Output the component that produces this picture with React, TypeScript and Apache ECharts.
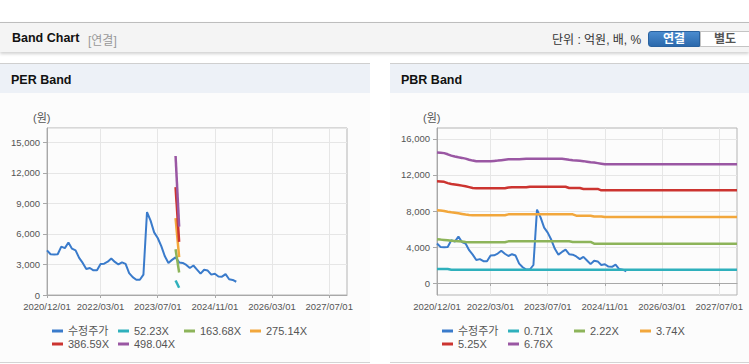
import React, { useEffect, useRef } from 'react';
import * as echarts from 'echarts';

const FONT = "'Liberation Sans', Arial, 'Noto Sans CJK KR', sans-serif";

// Monthly categories 2020/12 .. 2027/12
const MONTHS: string[] = (() => {
  const out: string[] = [];
  let y = 2020;
  let m = 12;
  for (let i = 0; i < 85; i++) {
    out.push(`${y}/${String(m).padStart(2, '0')}/01`);
    m++;
    if (m > 12) { m = 1; y++; }
  }
  return out;
})();

const X_TICK_LABELS = ['2020/12/01', '2022/03/01', '2023/07/01', '2024/11/01', '2026/03/01', '2027/07/01'];

// 수정주가 (monthly, 2020/12 .. 2025/05)
const PRICE = [
  4380, 4000, 3980, 4000, 4750, 4600, 5150, 4550, 4380, 3650,
  3150, 2550, 2650, 2420, 2420, 3050, 3080, 3270, 3580, 3250,
  3000, 3200, 3050, 2150, 1750, 1500, 1500, 2000, 8150, 7300,
  6150, 5600, 4800, 3800, 3150, 3450, 3700, 3200, 3150, 2950,
  2650, 2900, 2500, 2100, 2480, 2400, 2000, 2080, 1820, 1800,
  2050, 1550, 1480, 1300,
];

// PER band
const PER_NAMES = ['52.23X', '163.68X', '275.14X', '386.59X', '498.04X'];
const PER_BAND_DATES = ['2023/12/01', '2024/01/01'];
const PER_52 = [1430, 705];
const PER_163 = [4490, 2210];
const PER_275 = [7540, 3715];
const PER_386 = [10600, 5220];
const PER_498 = [13650, 6720];

// PBR band
const PBR_NAMES = ['0.71X', '2.22X', '3.74X', '5.25X', '6.76X'];
const PBR_071 = [
  1560, 1560, 1560, 1560, 1480, 1480, 1480, 1480, 1480, 1480,
  1480, 1480, 1480, 1480, 1480, 1480, 1480, 1480, 1480, 1480,
  1480, 1480, 1480, 1480, 1480, 1480, 1480, 1480, 1480, 1480,
  1480, 1480, 1480, 1480, 1480, 1480, 1480, 1480, 1480, 1480,
  1480, 1480, 1480, 1480, 1480, 1480, 1480, 1480, 1480, 1480,
  1480, 1480, 1480, 1480, 1480, 1480, 1480, 1480, 1480, 1480,
  1480, 1480, 1480, 1480, 1480, 1480, 1480, 1480, 1480, 1480,
  1480, 1480, 1480, 1480, 1480, 1480, 1480, 1480, 1480, 1480,
  1480, 1480, 1480, 1480, 1480,
];
const PBR_222 = [
  4850, 4820, 4780, 4740, 4700, 4660, 4630, 4600, 4560, 4540,
  4520, 4520, 4520, 4520, 4520, 4520, 4520, 4520, 4520, 4520,
  4630, 4630, 4630, 4630, 4630, 4630, 4630, 4630, 4630, 4630,
  4630, 4630, 4630, 4630, 4630, 4630, 4630, 4630, 4560, 4560,
  4560, 4560, 4560, 4560, 4370, 4370, 4370, 4370, 4370, 4370,
  4370, 4370, 4370, 4370, 4370, 4370, 4370, 4370, 4370, 4370,
  4370, 4370, 4370, 4370, 4370, 4370, 4370, 4370, 4370, 4370,
  4370, 4370, 4370, 4370, 4370, 4370, 4370, 4370, 4370, 4370,
  4370, 4370, 4370, 4370, 4370,
];
const PBR_374 = [
  8080, 8050, 8000, 7920, 7850, 7800, 7740, 7670, 7600, 7550,
  7520, 7520, 7520, 7520, 7520, 7520, 7520, 7520, 7520, 7520,
  7630, 7630, 7630, 7630, 7630, 7630, 7630, 7630, 7630, 7630,
  7630, 7630, 7630, 7630, 7630, 7630, 7630, 7630, 7630, 7480,
  7480, 7480, 7480, 7480, 7400, 7400, 7400, 7330, 7330, 7330,
  7330, 7330, 7330, 7330, 7330, 7330, 7330, 7330, 7330, 7330,
  7330, 7330, 7330, 7330, 7330, 7330, 7330, 7330, 7330, 7330,
  7330, 7330, 7330, 7330, 7330, 7330, 7330, 7330, 7330, 7330,
  7330, 7330, 7330, 7330, 7330,
];
const PBR_525 = [
  11300, 11280, 11240, 11100, 11000, 10950, 10900, 10820, 10740, 10650,
  10560, 10520, 10520, 10520, 10520, 10520, 10520, 10520, 10520, 10520,
  10600, 10630, 10630, 10630, 10630, 10630, 10700, 10700, 10700, 10700,
  10700, 10700, 10700, 10700, 10700, 10700, 10700, 10560, 10560, 10560,
  10560, 10450, 10450, 10450, 10450, 10450, 10300, 10300, 10300, 10300,
  10300, 10300, 10300, 10300, 10300, 10300, 10300, 10300, 10300, 10300,
  10300, 10300, 10300, 10300, 10300, 10300, 10300, 10300, 10300, 10300,
  10300, 10300, 10300, 10300, 10300, 10300, 10300, 10300, 10300, 10300,
  10300, 10300, 10300, 10300, 10300,
];
const PBR_676 = [
  14500, 14480, 14430, 14300, 14150, 14050, 13970, 13900, 13820, 13700,
  13600, 13520, 13520, 13520, 13520, 13520, 13560, 13600, 13650, 13700,
  13740, 13750, 13750, 13760, 13780, 13800, 13800, 13800, 13800, 13800,
  13800, 13800, 13800, 13800, 13800, 13800, 13760, 13700, 13650, 13620,
  13580, 13540, 13480, 13420, 13380, 13320, 13260, 13200, 13200, 13200,
  13200, 13200, 13200, 13200, 13200, 13200, 13200, 13200, 13200, 13200,
  13200, 13200, 13200, 13200, 13200, 13200, 13200, 13200, 13200, 13200,
  13200, 13200, 13200, 13200, 13200, 13200, 13200, 13200, 13200, 13200,
  13200, 13200, 13200, 13200, 13200,
];
const PBR_Y_TICKS = [0, 4000, 8000, 12000, 16000];

const PRICE_NAME = '수정주가';
const COLORS = ['#3a7bcb', '#2fb0bc', '#8db45a', '#f2a73c', '#cc3430', '#9a57a3'];

const tickSet = new Set(X_TICK_LABELS);
const showIdx = (_i: number, v: string) => tickSet.has(v);
const fmt = (v: number) => Number(v).toLocaleString('en-US');

function lineSeries(name: string, data: (number | null)[], color: string, width = 2) {
  return {
    name,
    type: 'line',
    data,
    showSymbol: false,
    symbol: 'none',
    connectNulls: false,
    color,
    lineStyle: { color, width },
    emphasis: { disabled: true },
  };
}

function buildOption(kind: 'PER' | 'PBR') {
  const names = kind === 'PER' ? PER_NAMES : PBR_NAMES;
  let bands: (number | null)[][];
  if (kind === 'PER') {
    const src = [PER_52, PER_163, PER_275, PER_386, PER_498];
    bands = src.map((vals) =>
      MONTHS.map((d) => {
        const k = PER_BAND_DATES.indexOf(d);
        return k >= 0 ? vals[k] : null;
      })
    );
  } else {
    bands = [PBR_071, PBR_222, PBR_374, PBR_525, PBR_676];
  }
  const legendText = { fontSize: 11, color: '#555', fontFamily: FONT, width: 46, lineHeight: 12 };
  const legendCommon = {
    left: 52,
    orient: 'horizontal',
    icon: 'rect',
    itemWidth: 11,
    itemHeight: 3,
    itemGap: 4,
    padding: 0,
    selectedMode: false,
    textStyle: legendText,
  };
  const yAxis: any = {
    type: 'value',
    axisLine: { show: true, lineStyle: { color: '#a8a8a8' } },
    axisTick: { show: true, length: 4, lineStyle: { color: '#a8a8a8' } },
    axisLabel: { color: '#555', fontSize: 9.5, fontFamily: FONT, margin: 7, formatter: fmt, showMaxLabel: false },
    splitLine: { show: true, lineStyle: { color: '#e6e6e6' } },
  };
  if (kind === 'PER') {
    yAxis.min = 0;
    yAxis.max = 16400;
    yAxis.interval = 3000;
  } else {
    yAxis.min = -1333;
    yAxis.max = 17222;
    yAxis.axisLabel.customValues = PBR_Y_TICKS;
    yAxis.axisTick.customValues = PBR_Y_TICKS;
    yAxis.axisLabel.showMaxLabel = true;
  }
  return {
    animation: false,
    grid: { left: 47, top: 35, width: 300, height: 167, show: true, borderColor: '#b4b4b4', borderWidth: 1, backgroundColor: 'transparent' },
    xAxis: {
      type: 'category',
      data: MONTHS,
      boundaryGap: false,
      axisLine: { show: true, lineStyle: { color: '#a8a8a8' } },
      axisTick: { show: true, interval: showIdx, length: 3, lineStyle: { color: '#a8a8a8' } },
      axisLabel: {
        interval: showIdx,
        color: '#555',
        fontSize: 9.5,
        fontFamily: FONT,
        margin: 7,
        hideOverlap: false,
      },
      splitLine: { show: true, interval: showIdx, lineStyle: { color: '#e6e6e6' } },
    },
    yAxis,
    legend: [
      { ...legendCommon, top: 232, data: [PRICE_NAME, names[0], names[1], names[2]] },
      { ...legendCommon, top: 245, data: [names[3], names[4]] },
    ],
    graphic: [
      {
        type: 'text',
        left: 33,
        top: 19,
        style: { text: '(원)', fill: '#555', fontSize: 11, fontFamily: FONT },
      },
    ],
    series: [
      lineSeries(PRICE_NAME, PRICE, COLORS[0], 2),
      ...bands.map((b, i) => lineSeries(names[i], b, COLORS[i + 1], 2.5)),
    ],
  };
}

function BandChart({ kind }: { kind: 'PER' | 'PBR' }) {
  const ref = useRef<HTMLDivElement>(null);
  useEffect(() => {
    if (!ref.current) return;
    const chart = echarts.init(ref.current, undefined, { renderer: 'svg' });
    chart.setOption(buildOption(kind) as any);
    return () => chart.dispose();
  }, [kind]);
  return <div ref={ref} style={{ position: 'absolute', left: 0, top: 29, width: '100%', height: 269 }} />;
}

function Panel({ left, width, title, kind }: { left: number; width: number; title: string; kind: 'PER' | 'PBR' }) {
  return (
    <div
      style={{
        position: 'absolute',
        left,
        top: 63,
        width,
        height: 300,
        borderTop: '1px solid #cfcfcf',
        borderBottom: '1px solid #d4d4d4',
        background: '#fcfcfc',
        boxSizing: 'border-box',
      }}
    >
      <div style={{ position: 'absolute', left: 0, top: 0, width: '100%', height: 29, background: '#edf1f7' }}>
        <span style={{ position: 'absolute', left: 11, top: 9, fontSize: 12.5, fontWeight: 'bold', color: '#111' }}>{title}</span>
      </div>
      <BandChart kind={kind} />
    </div>
  );
}

export default function App() {
  return (
    <div
      style={{
        position: 'fixed',
        left: 0,
        top: 0,
        width: 749,
        height: 364,
        background: '#fff',
        overflow: 'hidden',
        fontFamily: FONT,
      }}
    >
      <div
        style={{
          position: 'absolute',
          left: 0,
          top: 22,
          width: 749,
          height: 30,
          background: '#f4f4f4',
          borderTop: '1px solid #bdbdbd',
          boxShadow: '0 2px 3px rgba(0,0,0,0.18)',
          boxSizing: 'border-box',
        }}
      >
        <span style={{ position: 'absolute', left: 12, top: 8, fontSize: 12.5, fontWeight: 'bold', color: '#111' }}>Band Chart</span>
        <span style={{ position: 'absolute', left: 88, top: 8, fontSize: 12, color: '#999' }}>[연결]</span>
        <span style={{ position: 'absolute', left: 552, top: 7, fontSize: 12, color: '#333' }}>단위 : 억원, 배, %</span>
        <div
          style={{
            position: 'absolute',
            left: 648,
            top: 8,
            width: 52,
            height: 16,
            background: 'linear-gradient(#4b8ccf, #2b69ac)',
            border: '1px solid #2a629f',
            boxSizing: 'border-box',
            borderRadius: '3px 0 0 3px',
            color: '#fff',
            fontWeight: 'bold',
            fontSize: 12,
            textAlign: 'center',
            lineHeight: '14px',
          }}
        >
          연결
        </div>
        <div
          style={{
            position: 'absolute',
            left: 700,
            top: 8,
            width: 50,
            height: 16,
            background: '#fff',
            border: '1px solid #c4c4c4',
            boxSizing: 'border-box',
            color: '#555',
            fontWeight: 'bold',
            fontSize: 12,
            textAlign: 'center',
            lineHeight: '14px',
          }}
        >
          별도
        </div>
      </div>
      <Panel left={0} width={370} title="PER Band" kind="PER" />
      <Panel left={390} width={359} title="PBR Band" kind="PBR" />
    </div>
  );
}
